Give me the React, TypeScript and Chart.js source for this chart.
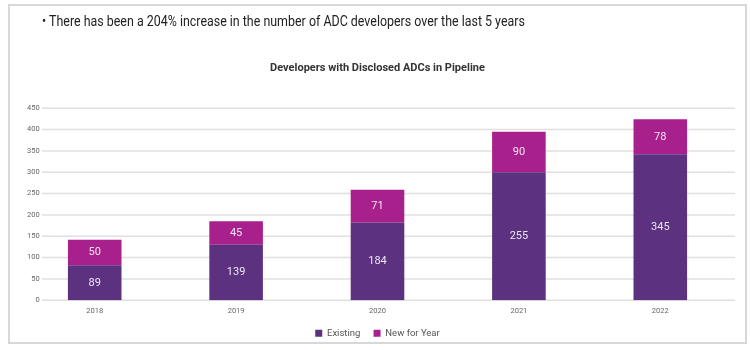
import React, { useEffect, useRef } from "react";
import { Chart, registerables } from "chart.js";

Chart.register(...registerables);

const categories = ["2018", "2019", "2020", "2021", "2022"];
// bar heights as drawn in the picture
const existingValues = [82, 130, 182, 300, 342];
const newValues = [60, 55, 77, 95, 82];
// numbers printed on the bars
const existingLabels = ["89", "139", "184", "255", "345"];
const newLabels = ["50", "45", "71", "90", "78"];
const yTicks = [0, 50, 100, 150, 200, 250, 300, 350, 400, 450];

const seriesNames = ["Existing", "New for Year"];
const seriesColors = ["#5c3180", "#a7208b"];
const bulletText = "There has been a 204% increase in the number of ADC developers over the last 5 years";
const chartTitle = "Developers with Disclosed ADCs in Pipeline";

const gridPlugin = {
  id: "customGrid",
  beforeDatasetsDraw(chart: any) {
    const { ctx, chartArea, scales } = chart;
    const y = scales.y;
    ctx.save();
    ctx.strokeStyle = "#e0e0e0";
    ctx.lineWidth = 1.5;
    yTicks.forEach((v) => {
      const py = y.getPixelForValue(v);
      ctx.beginPath();
      ctx.moveTo(chartArea.left + 18, py);
      ctx.lineTo(chartArea.right + 4, py);
      ctx.stroke();
    });
    ctx.restore();
  },
};

const labelPlugin = {
  id: "barLabels",
  afterDatasetsDraw(chart: any) {
    const { ctx } = chart;
    const labelSets = [existingLabels, newLabels];
    ctx.save();
    ctx.font = "11px Roboto";
    ctx.fillStyle = "rgba(255,255,255,0.88)";
    ctx.textAlign = "center";
    ctx.textBaseline = "middle";
    chart.data.datasets.forEach((_: any, di: number) => {
      const meta = chart.getDatasetMeta(di);
      meta.data.forEach((el: any, i: number) => {
        const cy = (el.y + el.base) / 2;
        ctx.fillText(labelSets[di][i], el.x, cy);
      });
    });
    ctx.restore();
  },
};

export default function App() {
  const ref = useRef<HTMLCanvasElement | null>(null);
  useEffect(() => {
    if (!ref.current) return;
    const chart = new Chart(ref.current, {
      type: "bar",
      data: {
        labels: categories,
        datasets: [
          { label: seriesNames[0], data: existingValues, backgroundColor: seriesColors[0] },
          { label: seriesNames[1], data: newValues, backgroundColor: seriesColors[1] },
        ],
      },
      options: {
        animation: false,
        responsive: false,
        maintainAspectRatio: false,
        layout: { padding: { left: 24, right: 19, top: 0, bottom: 2 } },
        datasets: { bar: { categoryPercentage: 1, barPercentage: 0.379 } },
        scales: {
          x: {
            stacked: true,
            grid: { display: false, drawTicks: false, tickLength: 0 },
            border: { display: false },
            afterFit(scale: any) { scale.height = 15; },
            ticks: { color: "#666", font: { family: "Roboto", size: 7.5 }, padding: 6.5 },
          },
          y: {
            stacked: true,
            min: 0,
            max: 450,
            grid: { display: false, drawTicks: false, tickLength: 0 },
            border: { display: false },
            afterFit(scale: any) { scale.width = 0; },
            ticks: {
              stepSize: 50,
              mirror: true,
              crossAlign: "far",
              padding: 3,
              color: "#666",
              font: { family: "Roboto", size: 7.5 },
            },
          },
        },
        plugins: {
          title: {
            display: true,
            text: chartTitle,
            color: "#333",
            font: { family: "Roboto", size: 11, weight: "bold" },
            padding: { top: 62, bottom: 33 },
          },
          legend: {
            position: "bottom",
            labels: {
              boxWidth: 7,
              boxHeight: 7,
              padding: 13.25,
              color: "#555",
              font: { family: "Roboto", size: 9.5 },
            },
          },
          tooltip: { enabled: false },
        },
      },
      plugins: [gridPlugin, labelPlugin],
    });
    return () => chart.destroy();
  }, []);

  return (
    <div style={{ position: "fixed", left: 0, top: 0, width: 750, height: 350, background: "#fff" }}>
      <div
        style={{
          position: "absolute",
          left: 8,
          top: 4,
          width: 739,
          height: 340,
          boxSizing: "border-box",
          border: "2px solid #d8d8d8",
        }}
      />
      <canvas ref={ref} width={750} height={350} style={{ position: "absolute", left: 0, top: 0, width: 750, height: 350 }} />
      <div
        style={{
          position: "absolute",
          left: 42,
          top: 12,
          fontFamily: "Roboto",
          fontSize: 14,
          color: "#222",
          whiteSpace: "nowrap",
          lineHeight: "18px",
          transform: "scaleX(0.888)",
          transformOrigin: "0 0",
        }}
      >
        {"\u2022 " + bulletText}
      </div>
    </div>
  );
}
